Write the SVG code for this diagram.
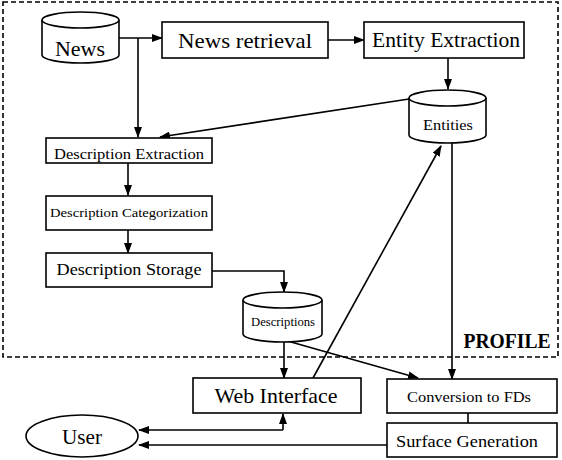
<svg xmlns="http://www.w3.org/2000/svg" width="562" height="460" viewBox="0 0 562 460">
<defs>
<marker id="ah" markerWidth="11" markerHeight="8" refX="10" refY="4" orient="auto" markerUnits="userSpaceOnUse">
<path d="M0,0 L11,4 L0,8 Z" fill="#000"/>
</marker>
<style>
.b{fill:#fff;stroke:#000;stroke-width:1.6}
.c{fill:none;stroke:#000;stroke-width:1.6}
.t{font-family:"Liberation Serif","Times New Roman",serif;fill:#000;text-anchor:middle}
.e{fill:none;stroke:#000;stroke-width:1.6;marker-end:url(#ah)}
</style>
</defs>
<rect x="3" y="2" width="555" height="355" fill="none" stroke="#000" stroke-width="1.6" stroke-dasharray="5,3"/>
<text class="t" x="507" y="348" font-size="20" font-weight="bold" textLength="87" lengthAdjust="spacingAndGlyphs">PROFILE</text>
<g id="connectors">
<path class="e" d="M119,38 H162"/>
<path class="e" d="M138,38 V137"/>
<path class="e" d="M328,40 H364"/>
<path class="e" d="M448,58 V89"/>
<path class="e" d="M409,99 L160,137"/>
<path class="e" d="M128,163 V195"/>
<path class="e" d="M128,230 V253"/>
<path class="e" d="M212,271 H284 V292"/>
<path class="e" d="M284,342 V378"/>
<path class="e" d="M291,342 L418,378"/>
<path class="e" d="M313,378 L441,146"/>
<path class="e" d="M452,143 V379"/>
<path class="c" d="M468,413 V423"/>
<path class="e" d="M283,430 V414"/>
<path class="e" d="M283,430 H139"/>
<path class="e" d="M387,445 H139"/>
</g>
<g id="news">
<path class="b" d="M42,20 V55 A38.5,8 0 0 0 119,55 V20"/>
<ellipse class="b" cx="80.5" cy="20" rx="38.5" ry="8"/>
<text class="t" x="80" y="56" font-size="21" textLength="50" lengthAdjust="spacingAndGlyphs">News</text>
</g>
<g id="news-retrieval">
<rect class="b" x="162" y="22" width="166" height="36"/>
<text class="t" x="245" y="48" font-size="21" textLength="134" lengthAdjust="spacingAndGlyphs">News retrieval</text>
</g>
<g id="entity-extraction">
<rect class="b" x="364" y="22" width="160" height="36"/>
<text class="t" x="446" y="47" font-size="21" textLength="148" lengthAdjust="spacingAndGlyphs">Entity Extraction</text>
</g>
<g id="entities">
<path class="b" d="M409,98 V135 A38.5,8 0 0 0 486,135 V98"/>
<ellipse class="b" cx="447.5" cy="98" rx="38.5" ry="8"/>
<text class="t" x="448" y="130" font-size="14" textLength="50" lengthAdjust="spacingAndGlyphs">Entities</text>
</g>
<g id="description-extraction">
<rect class="b" x="46" y="138" width="166" height="25"/>
<text class="t" x="129" y="159" font-size="15" textLength="150" lengthAdjust="spacingAndGlyphs">Description Extraction</text>
</g>
<g id="description-categorization">
<rect class="b" x="46" y="196" width="166" height="34"/>
<text class="t" x="129" y="217" font-size="13.5" textLength="158" lengthAdjust="spacingAndGlyphs">Description Categorization</text>
</g>
<g id="description-storage">
<rect class="b" x="46" y="253" width="166" height="34"/>
<text class="t" x="129" y="275" font-size="17.5" textLength="145" lengthAdjust="spacingAndGlyphs">Description Storage</text>
</g>
<g id="descriptions">
<path class="b" d="M243,300 V334 A39.5,8 0 0 0 322,334 V300"/>
<ellipse class="b" cx="282.5" cy="300" rx="39.5" ry="8"/>
<text class="t" x="283" y="326" font-size="12" textLength="64" lengthAdjust="spacingAndGlyphs">Descriptions</text>
</g>
<g id="web-interface">
<rect class="b" x="193" y="378" width="168" height="35"/>
<text class="t" x="276" y="403" font-size="21" textLength="123" lengthAdjust="spacingAndGlyphs">Web Interface</text>
</g>
<g id="conversion">
<rect class="b" x="387" y="379" width="170" height="34"/>
<text class="t" x="469" y="402" font-size="15.5" textLength="124" lengthAdjust="spacingAndGlyphs">Conversion to FDs</text>
</g>
<g id="surface-generation">
<rect class="b" x="387" y="423" width="170" height="34"/>
<text class="t" x="467" y="447" font-size="17" textLength="142" lengthAdjust="spacingAndGlyphs">Surface Generation</text>
</g>
<g id="user">
<ellipse class="b" cx="82" cy="436" rx="56" ry="21"/>
<text class="t" x="82" y="444" font-size="21" textLength="40" lengthAdjust="spacingAndGlyphs">User</text>
</g>
</svg>
